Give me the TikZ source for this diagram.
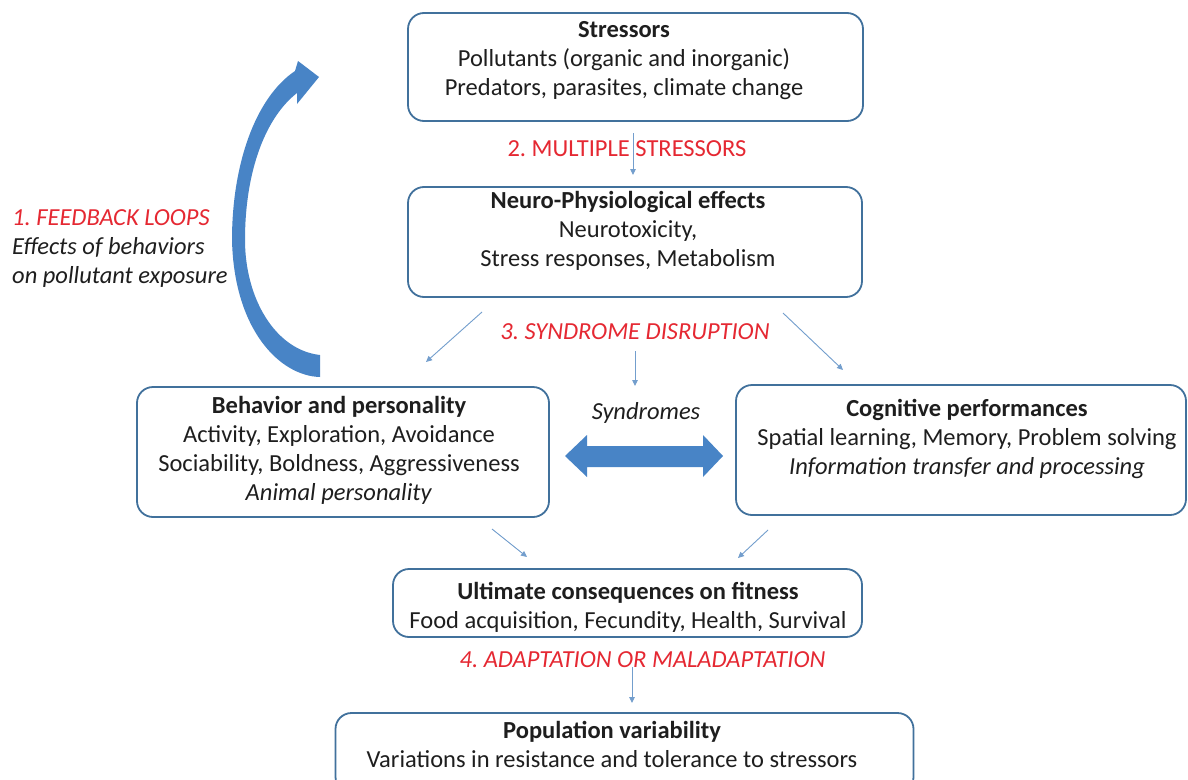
\documentclass[tikz,border=0pt]{standalone}
\usepackage{fontspec}
\setmainfont{Carlito}
\usetikzlibrary{arrows.meta}
\frenchspacing
\definecolor{boxline}{RGB}{65,113,156}
\definecolor{redlab}{RGB}{229,40,50}
\definecolor{bodytxt}{RGB}{30,30,30}
\definecolor{thinarr}{RGB}{115,158,205}
\definecolor{bigblue}{RGB}{72,132,198}
\begin{document}
\begin{tikzpicture}[x=1pt,y=-1pt,
  box/.style={draw=boxline,line width=1.8pt,rounded corners=16pt,fill=white,inner sep=0pt},
  txt/.style={align=center,text=bodytxt,font=\fontsize{24.5}{29}\selectfont,inner sep=0pt},
  redlabel/.style={text=redlab,font=\fontsize{24.5}{29}\selectfont,inner sep=0pt},
  finearrow/.style={draw=thinarr,line width=0.9pt,-{Triangle[length=6pt,width=5.5pt]}}
]
\clip (0,0) rectangle (1188,779);
\fill[white] (0,0) rectangle (1188,779);

% boxes
\node[box,minimum width=455pt,minimum height=108pt] (stressors) at (635.5,67) {};
\node[box,minimum width=454pt,minimum height=110pt] (neuro) at (635,242) {};
\node[box,minimum width=412pt,minimum height=130pt] (behavior) at (343,452) {};
\node[box,minimum width=450pt,minimum height=130pt] (cognitive) at (961,450) {};
\node[box,minimum width=469pt,minimum height=68pt] (ultimate) at (627.5,603) {};
\node[box,minimum width=578pt,minimum height=80pt] (population) at (624.5,753) {};

% box texts
\node[txt] (stressorsT) at (624,61) {\textbf{Stressors}\\Pollutants (organic and inorganic)\\Predators, parasites, climate change};
\node[txt] (neuroT) at (628,231) {\textbf{Neuro-Physiological effects}\\Neurotoxicity,\\Stress responses, Metabolism};
\node[txt] (behaviorT) at (339,450) {\textbf{Behavior and personality}\\Activity, Exploration, Avoidance\\Sociability, Boldness, Aggressiveness\\\textit{Animal personality}};
\node[txt] (cognitiveT) at (967,438.5) {\textbf{Cognitive performances}\\Spatial learning, Memory, Problem solving\\\textit{Information transfer and processing}};
\node[txt] (ultimateT) at (628,607) {\textbf{Ultimate consequences on fitness}\\Food acquisition, Fecundity, Health, Survival};
\node[txt] (populationT) at (612,744) {\textbf{Population variability}\\Variations in resistance and tolerance to stressors};

% thin connectors
\coordinate (s1) at (633,133); \coordinate (e1) at (633,175);
\draw[finearrow] (s1) -- (e1);
\coordinate (s2) at (482,312); \coordinate (e2) at (426,362);
\draw[finearrow] (s2) -- (e2);
\coordinate (s3) at (635,351); \coordinate (e3) at (635,386);
\draw[finearrow] (s3) -- (e3);
\coordinate (s4) at (783,313); \coordinate (e4) at (843,370);
\draw[finearrow] (s4) -- (e4);
\coordinate (s5) at (492,529); \coordinate (e5) at (527,557);
\draw[finearrow] (s5) -- (e5);
\coordinate (s6) at (768,530); \coordinate (e6) at (738,558);
\draw[finearrow] (s6) -- (e6);
\coordinate (s7) at (632,667); \coordinate (e7) at (632,703);
\draw[finearrow] (s7) -- (e7);

% red labels
\node[redlabel] (lab2) at (627,149) {2. MULTIPLE STRESSORS};
\node[redlabel] (lab3) at (635,332) {\textit{3. SYNDROME DISRUPTION}};
\node[redlabel] (lab4) at (642.5,660) {\textit{4. ADAPTATION OR MALADAPTATION}};
\node[txt,anchor=west] (lab1) at (12,249) {\begin{tabular}{@{}l@{}}\textcolor{redlab}{\textit{1. FEEDBACK LOOPS}}\\\textit{Effects of behaviors}\\\textit{on pollutant exposure}\end{tabular}};
\node[txt] (synd) at (646,413) {\textit{Syndromes}};

% double arrow
\fill[bigblue] (565,456) -- (587,435) -- (587,446) -- (703,446) -- (703,435) -- (723,456)
  -- (703,477) -- (703,467) -- (587,467) -- (587,477) -- cycle;

% curved feedback arrow
\fill[bigblue] (320,377) .. controls (280,376) and (234,330) .. (232,240)
  .. controls (232,165) and (255,98) .. (295,71) -- (298,61) -- (319,77) -- (297,104) -- (297,93)
  .. controls (265,118) and (245,172) .. (245,240)
  .. controls (245,298) and (275,350) .. (320,355) -- cycle;
\end{tikzpicture}
\end{document}
